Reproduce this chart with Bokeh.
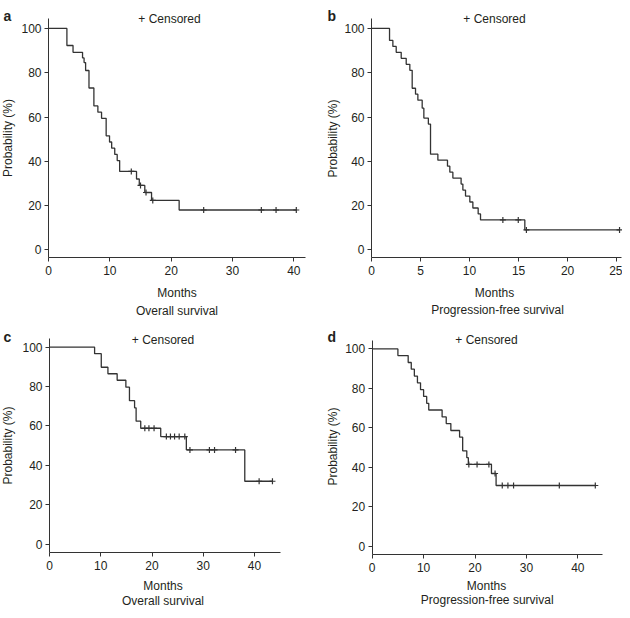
import math
import numpy as np
from bokeh.plotting import figure
from bokeh.models import Label, Range1d
from bokeh.layouts import gridplot
from bokeh.embed import file_html
from bokeh.resources import INLINE

# ---------------- data ----------------
# panel a: overall survival
a_event_months = [3.0, 4.0, 5.55, 5.8, 6.05, 6.6, 7.4, 8.05, 8.65, 9.4, 9.95, 10.3,
                  10.8, 11.2, 11.6, 14.35, 14.8, 15.7, 16.8, 21.3]
a_survival = [92.3, 89.2, 86.7, 84.6, 81.0, 73.1, 65.0, 62.2, 59.4, 51.5, 48.7, 45.9,
              43.1, 40.3, 35.4, 32.0, 29.1, 25.9, 22.3, 18.0]
a_censor_months = [13.5, 15.0, 15.9, 17.0, 25.3, 34.7, 37.1, 40.4]

# panel b: progression-free survival
b_event_months = [1.84, 2.18, 2.52, 3.03, 3.54, 3.91, 4.15, 4.49, 4.73, 5.17, 5.34, 5.8,
                  6.02, 6.77, 7.75, 7.99, 8.30, 9.14, 9.32, 9.59, 10.03, 10.34, 10.88,
                  11.12, 15.64]
b_survival = [94.6, 91.9, 89.2, 86.5, 83.8, 81.1, 73.0, 70.3, 67.6, 64.0, 59.5, 56.8,
              43.2, 40.5, 37.8, 35.1, 32.4, 29.7, 27.0, 24.3, 21.6, 18.9, 16.2, 13.5, 9.0]
b_censor_months = [13.4, 14.97, 15.8, 25.3]

# panel c: overall survival
c_event_months = [8.8, 10.1, 11.4, 13.2, 14.9, 15.6, 16.6, 16.9, 17.8, 21.7, 26.7, 38.1]
c_survival = [96.7, 89.8, 86.5, 83.2, 79.7, 72.8, 69.2, 62.4, 58.8, 54.6, 47.8, 31.9]
c_censor_months = [18.6, 19.4, 20.4, 22.8, 23.6, 24.4, 25.3, 26.4, 27.4, 31.2, 32.2,
                   36.3, 40.9, 43.5]

# panel d: progression-free survival
d_event_months = [5.0, 7.0, 7.6, 8.2, 8.8, 9.4, 10.0, 10.6, 11.0, 13.6, 14.4, 15.3,
                  17.0, 17.6, 18.4, 18.7, 23.2, 24.1]
d_survival = [96.6, 93.1, 89.7, 86.2, 82.8, 79.3, 75.9, 72.4, 69.0, 65.5, 62.1, 58.6,
              55.2, 48.3, 44.8, 41.4, 36.8, 30.7]
d_censor_months = [18.8, 20.4, 22.7, 23.9, 25.3, 26.4, 27.5, 36.4, 43.4]

x_ticks_40 = [0, 10, 20, 30, 40]
x_ticks_25 = [0, 5, 10, 15, 20, 25]
y_ticks = [0, 20, 40, 60, 80, 100]
panel_letters = ["a", "b", "c", "d"]
subtitles = ["Overall survival", "Progression-free survival",
             "Overall survival", "Progression-free survival"]
censor_text = "+ Censored"
x_label = "Months"
y_label = "Probability (%)"

# ---------------- layout (page pixel positions) ----------------
FONT = "Liberation Sans"
TXT = "#231f20"
LINE = "#333333"

# origin/size: figure box on the page; axes: (left, right, top, bottom) of the axis box;
# xr/yr: data extent of the axis box
layouts = [
    dict(origin=(0, 0), size=(315, 318), axes=(48, 305, 18, 257.3),
         xr=(0, 41.9), yr=(-3.6, 104.5),
         letter=(3, 15), cens=(169, 18.5), ylab=(7.5, 137.5), months=(176.5, 292.5), sub=(176.5, 310)),
    dict(origin=(315, 0), size=(307, 318), axes=(371, 621, 18, 257.3),
         xr=(0, 25.5), yr=(-3.6, 104.5),
         letter=(327, 15), cens=(494, 18.5), ylab=(332, 138), months=(494, 292.5), sub=(497, 309.5)),
    dict(origin=(0, 318), size=(315, 292), axes=(49, 280, 338, 552),
         xr=(0, 45.07), yr=(-4.3, 104.4),
         letter=(3, 336), cens=(162.5, 339), ylab=(7.5, 445), months=(162.5, 585.5), sub=(162.5, 600)),
    dict(origin=(315, 318), size=(307, 292), axes=(371.7, 602, 340.3, 554),
         xr=(0, 44.8), yr=(-4.3, 104.1),
         letter=(327, 336), cens=(486, 339), ylab=(332, 446), months=(486, 585.5), sub=(486.7, 599.5)),
]

series = [
    (a_event_months, a_survival, a_censor_months, x_ticks_40),
    (b_event_months, b_survival, b_censor_months, x_ticks_25),
    (c_event_months, c_survival, c_censor_months, x_ticks_40),
    (d_event_months, d_survival, d_censor_months, x_ticks_40),
]


def make_panel(cfg, events, surv, censors, xticks, letter, subtitle):
    ox, oy = cfg["origin"]
    w, h = cfg["size"]
    L, R, T, B = cfg["axes"]
    ax0, ax1 = cfg["xr"]
    ay0, ay1 = cfg["yr"]
    kx = (R - L) / (ax1 - ax0)      # px per month
    ky = (B - T) / (ay1 - ay0)      # px per percent
    x0 = ax0 - (L - ox) / kx
    x1 = ax1 + (ox + w - R) / kx
    y0 = ay0 - (oy + h - B) / ky
    y1 = ay1 + (T - oy) / ky

    p = figure(width=w, height=h, x_range=Range1d(x0, x1), y_range=Range1d(y0, y1),
               output_backend="svg", toolbar_location=None, min_border=0,
               min_border_left=0, min_border_right=0, min_border_top=0, min_border_bottom=0)
    p.outline_line_color = None
    p.background_fill_color = "white"
    p.border_fill_color = "white"
    p.xgrid.visible = False
    p.ygrid.visible = False

    p.xaxis.fixed_location = ay0
    p.xaxis.bounds = (ax0, ax1)
    p.yaxis.fixed_location = ax0
    p.yaxis.bounds = (ay0, ay1)
    for ax, ticks in ((p.xaxis, xticks), (p.yaxis, y_ticks)):
        ax.ticker = ticks
        ax.axis_line_color = LINE
        ax.axis_line_width = 1
        ax.major_tick_line_color = LINE
        ax.major_tick_in = 0
        ax.major_tick_out = 4
        ax.minor_tick_line_color = None
        ax.major_label_text_font = FONT
        ax.major_label_text_font_size = "12px"
        ax.major_label_text_color = TXT
    p.xaxis.major_label_standoff = 4
    p.yaxis.major_label_standoff = 3

    # Kaplan-Meier step curve
    xs = [0] + list(events) + [max(censors)]
    ys = [100] + list(surv) + [surv[-1]]
    p.step(xs, ys, mode="after", line_color=LINE, line_width=1.3)

    # censor marks at the curve level
    ev = np.array(events)
    cy = []
    for c in censors:
        idx = int(np.searchsorted(ev, c, side="right"))
        cy.append(100 if idx == 0 else surv[idx - 1])
    p.scatter(censors, cy, marker="cross", size=6, line_color=LINE, line_width=1.2)

    def to_data(px, py):
        return (x0 + (px - ox) / kx, y0 + (oy + h - py) / ky)

    def add_label(pos, text, size="12px", bold=False, align="center",
                  baseline="alphabetic", angle=0.0):
        dx, dy = to_data(*pos)
        p.add_layout(Label(x=dx, y=dy, text=text, text_font=FONT, text_font_size=size,
                           text_font_style="bold" if bold else "normal",
                           text_color=TXT, text_align=align, text_baseline=baseline,
                           angle=angle))

    add_label(cfg["letter"], letter, size="14px", bold=True, align="left")
    add_label(cfg["cens"], censor_text)
    add_label(cfg["ylab"], y_label, baseline="middle", angle=math.pi / 2)
    add_label(cfg["months"], x_label)
    add_label(cfg["sub"], subtitle)
    return p


panels = []
for cfg, (ev, sv, cs, xt), letter, sub in zip(layouts, series, panel_letters, subtitles):
    panels.append(make_panel(cfg, ev, sv, cs, xt, letter, sub))

grid = gridplot([[panels[0], panels[1]], [panels[2], panels[3]]], toolbar_location=None)

open("out.html", "w").write(file_html(grid, INLINE))
